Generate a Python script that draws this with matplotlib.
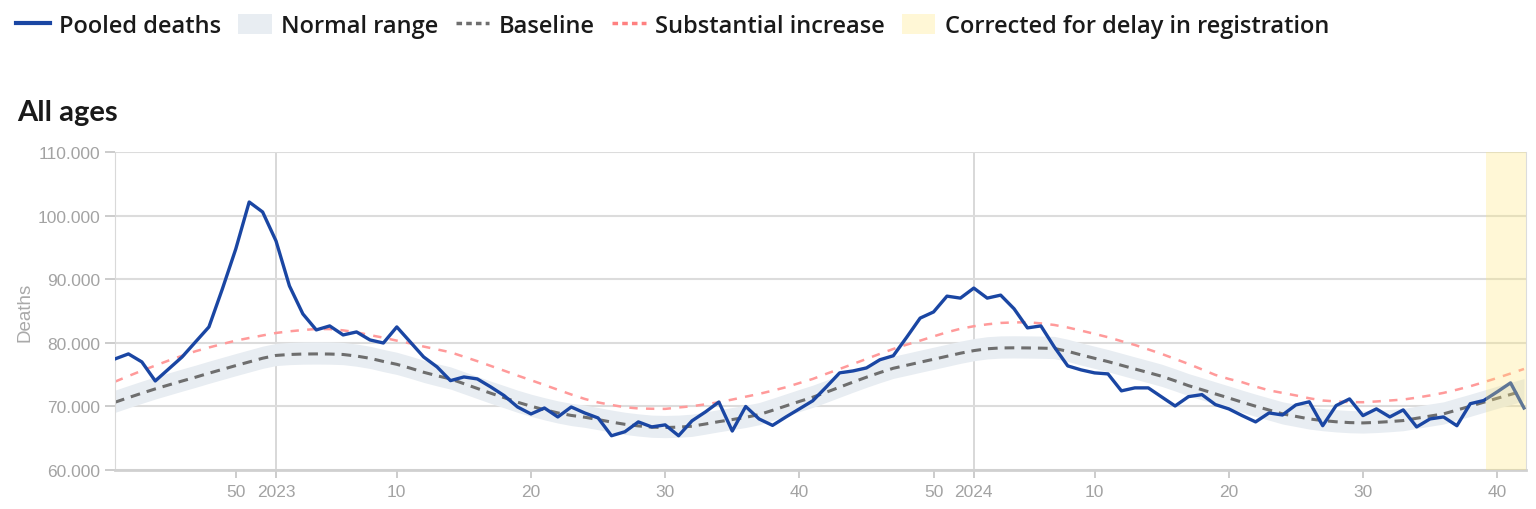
import matplotlib
matplotlib.use("Agg")
import matplotlib.pyplot as plt
from matplotlib.lines import Line2D
from matplotlib.patches import Patch
from matplotlib.ticker import FuncFormatter

# weekly series, 2022-W41 .. 2024-W42
pooled = [77450, 78240, 76980, 73980, 75870, 77760, 80130, 82490, 88470, 94770,
          102170, 100600, 96030, 88950, 84540, 82020, 82650, 81230, 81700, 80440,
          79960, 82490, 80130, 77760, 76190, 74030, 74610, 74300, 73040, 71670,
          69880, 68780, 69720, 68310, 69880, 68940, 68150, 65350, 65980, 67530,
          66740, 67060, 65350, 67700, 69100, 70660, 66090, 69960, 67990, 66980,
          68310, 69580, 70860, 73020, 75250, 75560, 76030, 77320, 77950, 80870,
          83880, 84850, 87340, 87030, 88610, 87030, 87500, 85350, 82340, 82650,
          79330, 76350, 75720, 75250, 75090, 72420, 72890, 72890, 71460, 70040,
          71510, 71830, 70260, 69580, 68520, 67530, 68940, 68620, 70200, 70700,
          66930, 70100, 71150, 68520, 69580, 68310, 69420, 66740, 68000, 68310,
          66930, 70400, 70900, 72260, 73680, 69720]

baseline = [70630, 71350, 72050, 72730, 73350, 73970, 74570, 75200, 75800, 76400,
            76980, 77560, 78000, 78150, 78220, 78240, 78220, 78150, 77900, 77550,
            77050, 76600, 76000, 75350, 74800, 74300, 73550, 72800, 72050, 71350,
            70630, 70000, 69450, 68950, 68550, 68270, 67900, 67500, 67150, 66900,
            66700, 66650, 66700, 66850, 67200, 67570, 67900, 68250, 68680, 69350,
            70050, 70750, 71420, 72200, 73000, 73800, 74570, 75300, 75980, 76450,
            76930, 77400, 77870, 78350, 78760, 79050, 79180, 79200, 79180, 79150,
            79100, 78650, 78080, 77550, 77030, 76450, 75870, 75300, 74720, 74000,
            73240, 72600, 71940, 71300, 70630, 70000, 69400, 68800, 68400, 68000,
            67740, 67550, 67420, 67370, 67450, 67580, 67740, 68100, 68450, 68790,
            69400, 70000, 70630, 71250, 71850, 72460]

normal_low = [69030, 69750, 70450, 71130, 71750, 72370, 72970, 73600, 74200, 74800,
              75380, 75960, 76400, 76550, 76620, 76640, 76620, 76550, 76300, 75950,
              75450, 75000, 74400, 73750, 73200, 72700, 71950, 71200, 70450, 69750,
              69030, 68400, 67850, 67350, 66950, 66670, 66300, 65900, 65550, 65300,
              65100, 65050, 65100, 65250, 65600, 65970, 66300, 66650, 67080, 67750,
              68450, 69150, 69820, 70600, 71400, 72200, 72970, 73700, 74380, 74850,
              75330, 75800, 76270, 76750, 77160, 77450, 77580, 77600, 77580, 77550,
              77500, 77050, 76480, 75950, 75430, 74850, 74270, 73700, 73120, 72400,
              71640, 71000, 70340, 69700, 69030, 68400, 67800, 67200, 66800, 66400,
              66140, 65950, 65820, 65770, 65850, 65980, 66140, 66500, 66850, 67190,
              67800, 68400, 69030, 69650, 70250, 70860]

normal_high = [72530, 73250, 73950, 74630, 75250, 75870, 76470, 77100, 77700, 78300,
               78880, 79460, 79900, 80050, 80120, 80140, 80120, 80050, 79800, 79450,
               78950, 78500, 77900, 77250, 76700, 76200, 75450, 74700, 73950, 73250,
               72530, 71900, 71350, 70850, 70450, 70170, 69800, 69400, 69050, 68800,
               68600, 68550, 68600, 68750, 69100, 69470, 69800, 70150, 70580, 71250,
               71950, 72650, 73320, 74100, 74900, 75700, 76470, 77200, 77880, 78350,
               78830, 79300, 79770, 80250, 80660, 80950, 81080, 81100, 81080, 81050,
               81000, 80550, 79980, 79450, 78930, 78350, 77770, 77200, 76620, 75900,
               75140, 74500, 73840, 73200, 72530, 71900, 71300, 70700, 70300, 69900,
               69640, 69450, 69320, 69270, 69350, 69480, 69640, 70000, 70350, 70690,
               71300, 71900, 72530, 73150, 73750, 74360]

substantial = [73870, 74750, 75600, 76400, 77200, 77950, 78660, 79250, 79800, 80330,
               80750, 81150, 81540, 81800, 82000, 82170, 82150, 81950, 81650, 81200,
               80800, 80330, 79900, 79400, 78950, 78500, 77800, 77100, 76350, 75600,
               74830, 74100, 73350, 72600, 71850, 71150, 70600, 70200, 69840, 69650,
               69600, 69580, 69800, 70000, 70300, 70630, 71050, 71500, 71940, 72450,
               72990, 73650, 74300, 75100, 75870, 76650, 77450, 78250, 79020, 79700,
               80330, 81000, 81650, 82200, 82600, 82900, 83120, 83200, 83230, 83050,
               82800, 82400, 81910, 81400, 80870, 80250, 79650, 78950, 78240, 77450,
               76660, 75800, 74930, 74300, 73780, 73100, 72500, 72100, 71700, 71250,
               70900, 70750, 70650, 70630, 70750, 70900, 71050, 71350, 71700, 72100,
               72600, 73150, 73780, 74450, 75150, 75870]

weeks = ([(2022, w) for w in range(41, 53)] + [(2023, w) for w in range(1, 53)]
         + [(2024, w) for w in range(1, 43)])
corrected_from = (2024, 39)   # last weeks corrected for registration delay

x = list(range(len(weeks)))
blue = "#1a46a3"
yellow = "#ffe678"
grey_txt = "#a3a3a3"

plt.rcParams["lines.scale_dashes"] = False
fig = plt.figure(figsize=(15.36, 5.1), dpi=100)
ax = fig.add_axes([115 / 1536, 1 - 470.7 / 510, 1411 / 1536, 317.4 / 510])

ax.fill_between(x, normal_low, normal_high, color="#e8edf2", lw=0, zorder=1)
ax.plot(x, baseline, color="#6e6e6e", lw=2.2, dashes=(7, 5), zorder=2)
ax.plot(x, substantial, color="#ff9a9a", lw=1.8, dashes=(6, 6), zorder=2)
ax.plot(x, pooled, color=blue, lw=2.4, zorder=3)
c0 = weeks.index(corrected_from)
ax.axvspan(c0 + 0.2, len(x) - 0.85, color=yellow, alpha=0.3, lw=0, zorder=4)

ax.set_xlim(0, len(x) - 0.85)
ax.set_ylim(60000, 110000)
ax.set_yticks(range(60000, 110001, 10000))
ax.yaxis.set_major_formatter(FuncFormatter(lambda v, p: f"{v:,.0f}".replace(",", ".")))
ticks = [i for i, (yr, w) in enumerate(weeks) if w == 1 or w % 10 == 0]
ax.set_xticks(ticks)
ax.set_xticklabels([str(weeks[i][0]) if weeks[i][1] == 1 else str(weeks[i][1]) for i in ticks])
for i in ticks:
    if weeks[i][1] == 1:
        ax.axvline(i, color="#d6d6d6", lw=1.3, zorder=0)
ax.grid(axis="y", color="#dcdcdc", lw=1.5, zorder=0)
ax.set_axisbelow(True)

ax.spines["top"].set_visible(False)
ax.spines["left"].set_color("#d9d9d9")
ax.spines["right"].set_color("#dcdcdc")
ax.spines["bottom"].set_color("#d0d0d0")
ax.spines["bottom"].set_linewidth(2)
ax.tick_params(axis="both", colors="#c8c8c8", labelcolor=grey_txt, labelsize=12.5,
               length=7, width=1.3)
ax.tick_params(axis="x", length=6, pad=4)
for lab in ax.get_xticklabels() + ax.get_yticklabels():
    lab.set_family("Liberation Sans")
ax.set_ylabel("Deaths", color="#a9a9a9", fontsize=13.5, family="Liberation Sans")
ax.yaxis.set_label_coords(-0.058, 0.5)

fig.text(17 / 1536, 1 - 113 / 510, "All ages", fontsize=21, fontweight="bold",
         family="Lato", color="#1a1a1a", va="center")

handles = [Line2D([], [], color=blue, lw=3),
           Patch(color="#e8edf2", lw=0),
           Line2D([], [], color="#6e6e6e", lw=2.5, dashes=(4, 3)),
           Line2D([], [], color="#ff8080", lw=2.5, dashes=(4, 3)),
           Patch(color=yellow, alpha=0.3, lw=0)]
labels = ["Pooled deaths", "Normal range", "Baseline", "Substantial increase",
          "Corrected for delay in registration"]
fig.legend(handles, labels, loc="center left", bbox_to_anchor=(16 / 1536, 1 - 27 / 510),
           ncol=5, frameon=False, borderpad=0, borderaxespad=0, handlelength=1.42,
           handleheight=0.95, handletextpad=0.4, columnspacing=0.73,
           prop={"family": "Open Sans", "size": 17, "weight": "semibold"},
           labelcolor="#1a1a1a")

fig.savefig("out.png", dpi=100)
